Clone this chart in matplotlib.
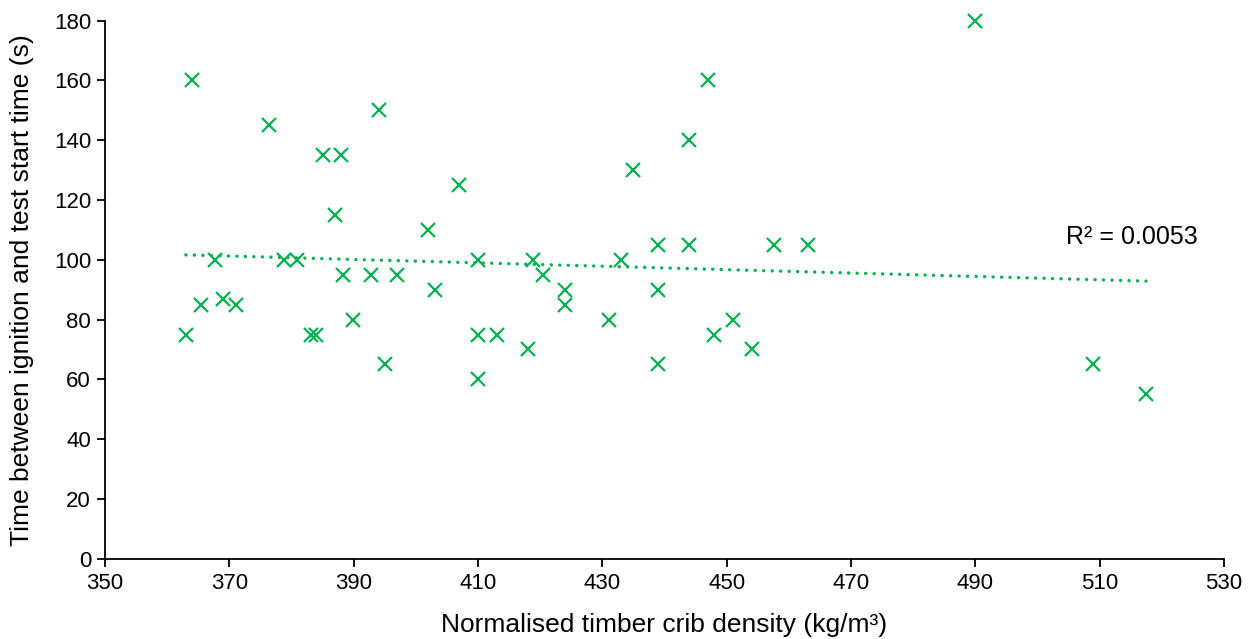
import numpy as np
import matplotlib.pyplot as plt

plt.rcParams['font.family'] = ['Liberation Sans', 'DejaVu Sans']

# crib density (kg/m3) vs delay between ignition and test start (s)
density = [364, 376.4, 394, 385, 388, 407, 387, 402, 367.7, 378.8,
           380.9, 410, 388.3, 392.8, 397, 403, 365.4, 369, 371, 389.9,
           363, 383.1, 384, 410, 413, 395, 410, 418, 418.9, 420.5,
           424, 424, 431, 433, 435, 439, 439, 439, 444, 444,
           447, 448, 451, 454, 457.6, 463, 490, 509, 517.5]
delay = [160, 145, 150, 135, 135, 125, 115, 110, 100, 100,
         100, 100, 95, 95, 95, 90, 85, 87, 85, 80,
         75, 75, 75, 75, 75, 65, 60, 70, 100, 95,
         90, 85, 80, 100, 130, 105, 90, 65, 140, 105,
         160, 75, 80, 70, 105, 105, 180, 65, 55]
r2_label = 'R² = 0.0053'

green = '#00B050'

fig = plt.figure(figsize=(12.53, 6.39), dpi=100)
ax = fig.add_axes([0.0838, 0.1257, 0.8931, 0.8419])

ax.plot(density, delay, linestyle='none', marker='x', ms=9.5, mew=1.6,
        color=green, zorder=3, clip_on=False)

# linear trendline across the data range
slope, intercept = np.polyfit(density, delay, 1)
xs = np.array([min(density), max(density)])
ax.plot(xs, slope * xs + intercept, color=green, lw=2.4,
        linestyle=(0, (0.05, 2.5)), dash_capstyle='round', zorder=2)
ax.text(504.6, 107.6, r2_label, fontsize=18, va='center', ha='left')

ax.set_xlim(350, 530)
ax.set_ylim(0, 180)
ax.set_xticks(np.arange(350, 531, 20))
ax.set_yticks(np.arange(0, 181, 20))
for s in ['top', 'right']:
    ax.spines[s].set_visible(False)
for s in ['left', 'bottom']:
    ax.spines[s].set_linewidth(1.3)
ax.tick_params(direction='out', length=6, width=1.3, labelsize=16, pad=4)

ax.set_xlabel('Normalised timber crib density (kg/m³)', fontsize=19, labelpad=14)
ax.set_ylabel('Time between ignition and test start time (s)', fontsize=19, labelpad=14)

fig.savefig('out.png', dpi=100)
